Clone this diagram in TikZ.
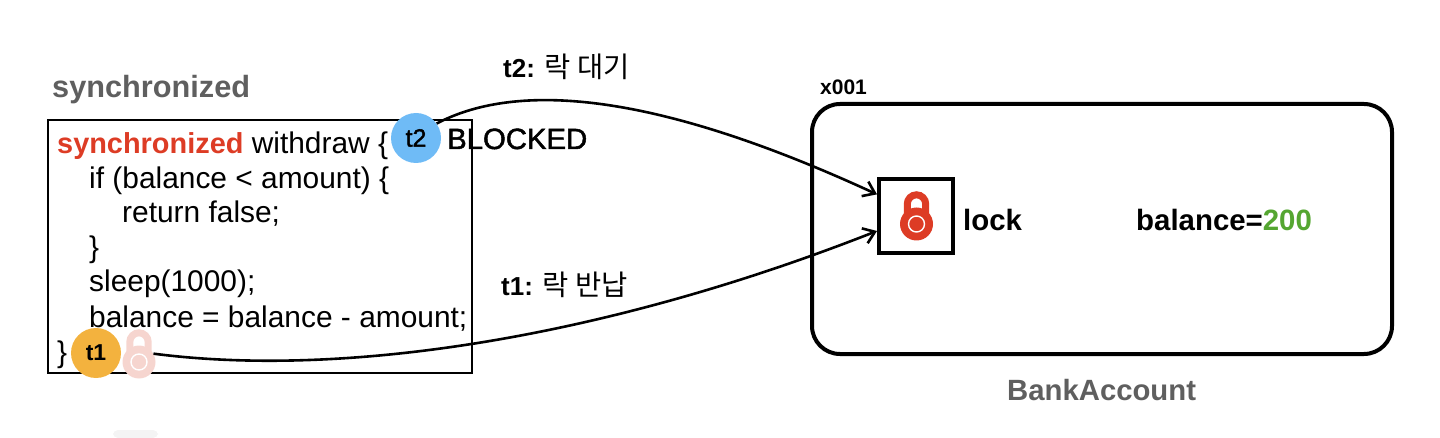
\documentclass[tikz,border=0pt]{standalone}
\usepackage{fontspec}
\setmainfont{Liberation Sans}
\newfontfamily\krfont{Noto Sans CJK KR}
\newfontfamily\heavyfont[FakeBold=1.6]{Liberation Sans}
\usetikzlibrary{arrows.meta}
\definecolor{lockred}{HTML}{DD3C25}
\definecolor{lockpale}{HTML}{F6D5CF}
\definecolor{titlegray}{HTML}{5F5F5F}
\definecolor{moneygreen}{HTML}{55A631}
\definecolor{tonebox}{HTML}{F4F4F4}
\definecolor{threadblue}{HTML}{6FBBF6}
\definecolor{threadgold}{HTML}{F3B23E}
\newcommand{\fsize}[1]{\fontsize{#1}{#1}\selectfont}
\tikzset{
    codeline/.style={anchor=base west, inner sep=0pt, font=\fsize{29.9}},
    boldtext/.style={anchor=base west, inner sep=0pt, font=\fsize{29.4}\bfseries},
    graytitle/.style={anchor=base west, inner sep=0pt, text=titlegray, font=\fsize{#1}\bfseries},
    thread/.style={circle, inner sep=0pt, minimum size=50pt, fill=#1},
    flow/.style={line width=2.6pt, black, -{Straight Barb[length=11pt,width=16pt,line width=2.6pt]}},
}
% body of the lock is a node, shackle and ring are drawn round it
\newcommand{\padlock}[4]{
    \draw[line width=7pt, #4] (#1-9.2,#2-6) -- (#1-9.2,#2-20) arc[start angle=180, end angle=360, radius=9.2] -- (#1+9.2,#2-6);
    \node[circle, inner sep=0pt, minimum size=33pt, fill=#4] (#3) at (#1,#2) {};
    \draw[line width=1.4pt, white] (#3) circle (8);
}
\begin{document}
\begin{tikzpicture}[x=1pt,y=-1pt]
    \useasboundingbox (0,0) rectangle (1440,438);
    \fill[tonebox, rounded corners=5pt] (113,438) -- (113,430) -- (158,430) -- (158,438) -- cycle;

    \node[graytitle=30.7] (title) at (52,98) {synchronized};
    \draw[line width=1.6pt, black] (48,120) rectangle (472,373);
    \node[codeline] (line1) at (57,154) {\textcolor{lockred}{\fsize{28.9}\bfseries synchronized} withdraw \{};
    \node[codeline] (line2) at (89,189) {if (balance < amount) \{};
    \node[codeline] (line3) at (122,223) {return false;};
    \node[codeline] (line4) at (89,258) {\}};
    \node[codeline] (line5) at (89,292) {sleep(1000);};
    \node[codeline] (line6) at (89,327) {balance = balance - amount;};
    \node[codeline] (line7) at (57,362) {\}};

    \node[thread=threadblue, font=\fsize{25}\heavyfont] (t2) at (416,138) {t2};
    \node[thread=threadgold, font=\fsize{23}\bfseries] (t1) at (96,353) {t1};
    \padlock{139}{362}{lockfaded}{lockpale}
    \node[anchor=base west, inner sep=0pt, font=\fsize{29.3}\heavyfont] (blocked) at (447,149) {BLOCKED};

    \draw[line width=4pt, black, rounded corners=28pt] (812,104) rectangle (1392,354);
    \node[anchor=base west, inner sep=0pt, font=\fsize{21}\bfseries] (addr) at (820,95) {x001};
    \node[draw, line width=4pt, inner sep=0pt, minimum size=74pt] (lockbox) at (916,216) {};
    \padlock{916.5}{224}{lockmain}{lockred}
    \node[boldtext] (locktext) at (963,231) {lock};
    \node[boldtext] (balance) at (1136,231) {balance=\textcolor{moneygreen}{200}};
    \node[graytitle=29.3] (account) at (1007,400) {BankAccount};

    \node[anchor=base west, inner sep=0pt, font=\fsize{26}] (waitlabel) at (503,78) {\textbf{t2:} {\fsize{28.5}\krfont 락 대기}};
    \node[anchor=base west, inner sep=0pt, font=\fsize{26}] (backlabel) at (501,295) {\textbf{t1:} {\fsize{28.5}\krfont 락 반납}};

    \draw[flow] (t2.35) .. controls (510,85) and (640,85) .. (lockbox.151);
    \draw[flow] (lockfaded.30) .. controls (340,378) and (600,340) .. (lockbox.201);
\end{tikzpicture}
\end{document}
